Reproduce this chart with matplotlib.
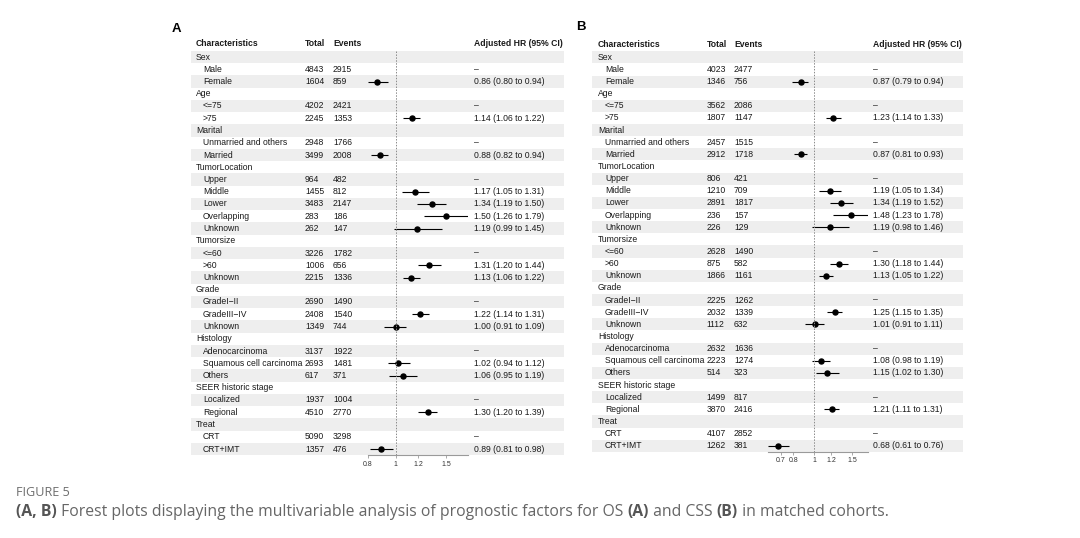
import matplotlib
matplotlib.use("Agg")
import matplotlib.pyplot as plt
from matplotlib.patches import Rectangle

plt.rcParams['font.family'] = ['Liberation Sans', 'DejaVu Sans']

W, H = 1080, 538

group_names = ["Sex", "Age", "Marital", "TumorLocation", "Tumorsize", "Grade",
               "Histology", "SEER historic stage", "Treat"]
group_sizes = [2, 2, 2, 5, 3, 3, 3, 2, 2]
levels = ["Male", "Female", "<=75", ">75", "Unmarried and others", "Married",
          "Upper", "Middle", "Lower", "Overlapping", "Unknown",
          "<=60", ">60", "Unknown", "GradeI\u2212II", "GradeIII\u2212IV", "Unknown",
          "Adenocarcinoma", "Squamous cell carcinoma", "Others",
          "Localized", "Regional", "CRT", "CRT+IMT"]

# panel A (OS)
total_a = [4843, 1604, 4202, 2245, 2948, 3499, 964, 1455, 3483, 283, 262, 3226,
           1006, 2215, 2690, 2408, 1349, 3137, 2693, 617, 1937, 4510, 5090, 1357]
events_a = [2915, 859, 2421, 1353, 1766, 2008, 482, 812, 2147, 186, 147, 1782,
            656, 1336, 1490, 1540, 744, 1922, 1481, 371, 1004, 2770, 3298, 476]
hr_a = [None, 0.86, None, 1.14, None, 0.88, None, 1.17, 1.34, 1.50, 1.19, None,
        1.31, 1.13, None, 1.22, 1.00, None, 1.02, 1.06, None, 1.30, None, 0.89]
lo_a = [None, 0.80, None, 1.06, None, 0.82, None, 1.05, 1.19, 1.26, 0.99, None,
        1.20, 1.06, None, 1.14, 0.91, None, 0.94, 0.95, None, 1.20, None, 0.81]
hi_a = [None, 0.94, None, 1.22, None, 0.94, None, 1.31, 1.50, 1.79, 1.45, None,
        1.44, 1.22, None, 1.31, 1.09, None, 1.12, 1.19, None, 1.39, None, 0.98]
ticks_a = [0.8, 1, 1.2, 1.5]

# panel B (CSS)
total_b = [4023, 1346, 3562, 1807, 2457, 2912, 806, 1210, 2891, 236, 226, 2628,
           875, 1866, 2225, 2032, 1112, 2632, 2223, 514, 1499, 3870, 4107, 1262]
events_b = [2477, 756, 2086, 1147, 1515, 1718, 421, 709, 1817, 157, 129, 1490,
            582, 1161, 1262, 1339, 632, 1636, 1274, 323, 817, 2416, 2852, 381]
hr_b = [None, 0.87, None, 1.23, None, 0.87, None, 1.19, 1.34, 1.48, 1.19, None,
        1.30, 1.13, None, 1.25, 1.01, None, 1.08, 1.15, None, 1.21, None, 0.68]
lo_b = [None, 0.79, None, 1.14, None, 0.81, None, 1.05, 1.19, 1.23, 0.98, None,
        1.18, 1.05, None, 1.15, 0.91, None, 0.98, 1.02, None, 1.11, None, 0.61]
hi_b = [None, 0.94, None, 1.33, None, 0.93, None, 1.34, 1.52, 1.78, 1.46, None,
        1.44, 1.22, None, 1.35, 1.11, None, 1.19, 1.30, None, 1.31, None, 0.76]
ticks_b = [0.7, 0.8, 1, 1.2, 1.5]

FS = 6.2
TXT = '#1a1a1a'
SHADE = '#eeeeee'
CAP_FONT = ['Open Sans', 'DejaVu Sans']
CAP_FS = 11.3

fig = plt.figure(figsize=(W / 100, H / 100), dpi=100)
bg = fig.add_axes([0, 0, 1, 1])
bg.set_xlim(0, W)
bg.set_ylim(H, 0)
bg.axis('off')


def draw_panel(letter, total, events, hr, lo, hi, ticks, g):
    y0, dy = g['y0'], g['dy']
    bg.text(g['letter'][0], g['letter'][1], letter, fontsize=9.5,
            weight='bold', va='center', ha='left', color='black')
    hy = g['head']
    bg.text(g['c0'], hy, "Characteristics", fontsize=FS, weight='bold', va='center', color=TXT)
    bg.text(g['c1'], hy, "Total", fontsize=FS, weight='bold', va='center', color=TXT)
    bg.text(g['c2'], hy, "Events", fontsize=FS, weight='bold', va='center', color=TXT)
    bg.text(g['c3'], hy, "Adjusted HR (95% CI)", fontsize=FS, weight='bold', va='center', color=TXT)

    fx = fig.add_axes([g['fl'] / W, 1 - (y0 + 32.5 * dy) / H,
                       (g['fr'] - g['fl']) / W, 33 * dy / H])
    fx.patch.set_visible(False)
    fx.set_xscale('log')

    row = 0
    k = 0
    for name, n in zip(group_names, group_sizes):
        y = y0 + row * dy
        if row % 2 == 0:
            bg.add_patch(Rectangle((g['sl'], y - dy / 2), g['sr'] - g['sl'], dy,
                                   color=SHADE, lw=0, zorder=0))
        bg.text(g['c0'], y, name, fontsize=FS, va='center', color=TXT)
        row += 1
        for j in range(n):
            y = y0 + row * dy
            if row % 2 == 0:
                bg.add_patch(Rectangle((g['sl'], y - dy / 2), g['sr'] - g['sl'], dy,
                                       color=SHADE, lw=0, zorder=0))
            bg.text(g['c0'] + 7, y, levels[k], fontsize=FS, va='center', color=TXT)
            bg.text(g['c1'], y, str(total[k]), fontsize=FS, va='center', color=TXT)
            bg.text(g['c2'], y, str(events[k]), fontsize=FS, va='center', color=TXT)
            if hr[k] is None:
                bg.text(g['c3'], y, "\u2013", fontsize=FS, va='center', color=TXT)
            else:
                bg.text(g['c3'], y, f"{hr[k]:.2f} ({lo[k]:.2f} to {hi[k]:.2f})",
                        fontsize=FS, va='center', color=TXT)
                fx.plot([lo[k], hi[k]], [row, row], color='black', lw=0.8,
                        solid_capstyle='butt')
                fx.plot([hr[k]], [row], 'o', color='black', ms=3.6)
            row += 1
            k += 1

    vals_lo = [v for v in lo if v is not None]
    vals_hi = [v for v in hi if v is not None]
    fx.set_xlim(min(vals_lo), max(vals_hi))
    fx.set_ylim(32.5, -0.5)
    fx.axvline(1, color='#8a8a8a', lw=0.7, ls=(0, (1.5, 1.5)))
    for s in ['top', 'left', 'right']:
        fx.spines[s].set_visible(False)
    fx.spines['bottom'].set_color('#9a9a9a')
    fx.spines['bottom'].set_linewidth(0.8)
    fx.set_yticks([])
    fx.set_xticks(ticks)
    fx.set_xticks([], minor=True)
    fx.set_xticklabels([f"{t:g}" for t in ticks])
    fx.tick_params(axis='x', labelsize=5, length=2.5, width=0.6,
                   color='#9a9a9a', labelcolor='#333333', pad=1.5)


geo_a = dict(y0=57, dy=12.25, head=44, letter=(172, 28.5), sl=191, sr=564,
             c0=196, c1=305, c2=333, c3=474, fl=368, fr=468)
geo_b = dict(y0=57.3, dy=12.14, head=44.3, letter=(576, 27.5), sl=592, sr=963,
             c0=598, c1=706.5, c2=734, c3=873, fl=768, fr=868)

draw_panel("A", total_a, events_a, hr_a, lo_a, hi_a, ticks_a, geo_a)
draw_panel("B", total_b, events_b, hr_b, lo_b, hi_b, ticks_b, geo_b)

# caption
fig.text(16 / W, 1 - 492 / H, "FIGURE 5", fontsize=9.1, color='#6e6e6e',
         family=CAP_FONT, va='center')

renderer = fig.canvas.get_renderer()


def seg_width(s, bold):
    w8 = 'bold' if bold else 'normal'
    t1 = fig.text(0, 0, "|" + s + "|", fontsize=CAP_FS, family=CAP_FONT, weight=w8)
    t2 = fig.text(0, 0, "||", fontsize=CAP_FS, family=CAP_FONT, weight=w8)
    w = t1.get_window_extent(renderer).width - t2.get_window_extent(renderer).width
    t1.remove()
    t2.remove()
    return w


parts = [("(A, B)", True),
         (" Forest plots displaying the multivariable analysis of prognostic factors for OS ", False),
         ("(A)", True), (" and CSS ", False), ("(B)", True), (" in matched cohorts.", False)]
xp = 16
for s, b in parts:
    fig.text(xp / W, 1 - 512 / H, s, fontsize=CAP_FS, family=CAP_FONT,
             weight='bold' if b else 'normal', color='#555555' if b else '#666666',
             va='center')
    xp += seg_width(s, b)

fig.savefig('out.png', dpi=100)
